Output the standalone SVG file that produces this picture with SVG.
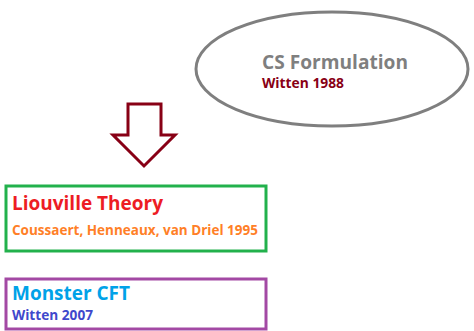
<svg xmlns="http://www.w3.org/2000/svg" width="474" height="331" viewBox="0 0 474 331">
<style>
text{font-family:"Open Sans","DejaVu Sans",sans-serif;font-weight:bold}
.t{font-size:19.5px}
.s{font-size:13.5px}
</style>
<rect width="474" height="331" fill="#fff"/>
<g id="cs">
<ellipse cx="332" cy="69" rx="136" ry="57" fill="#fff" stroke="#7f7f7f" stroke-width="3"/>
<text x="262" y="69" class="t" fill="#7f7f7f" textLength="146" lengthAdjust="spacingAndGlyphs">CS Formulation</text>
<text x="262" y="88" class="s" fill="#880015" textLength="82" lengthAdjust="spacingAndGlyphs">Witten 1988</text>
</g>
<g id="connectors">
<polygon points="128,104 161,104 161,135 175,135 144,166 113,135 128,135" fill="#fff" stroke="#880015" stroke-width="3" stroke-linejoin="miter"/>
</g>
<g id="liouville">
<rect x="6" y="186" width="260" height="65" fill="#fff" stroke="#22b14c" stroke-width="3"/>
<text x="12" y="210" class="t" fill="#ed1c24" textLength="151" lengthAdjust="spacingAndGlyphs">Liouville Theory</text>
<text x="12" y="235" class="s" fill="#ff7f27" textLength="246" lengthAdjust="spacingAndGlyphs">Coussaert, Henneaux, van Driel 1995</text>
</g>
<g id="monster">
<rect x="6" y="279" width="260" height="50" fill="#fff" stroke="#a349a4" stroke-width="3"/>
<text x="12" y="300" class="t" fill="#00a2e8" textLength="118" lengthAdjust="spacingAndGlyphs">Monster CFT</text>
<text x="12" y="319.5" class="s" fill="#3f48cc" textLength="81" lengthAdjust="spacingAndGlyphs">Witten 2007</text>
</g>
</svg>
